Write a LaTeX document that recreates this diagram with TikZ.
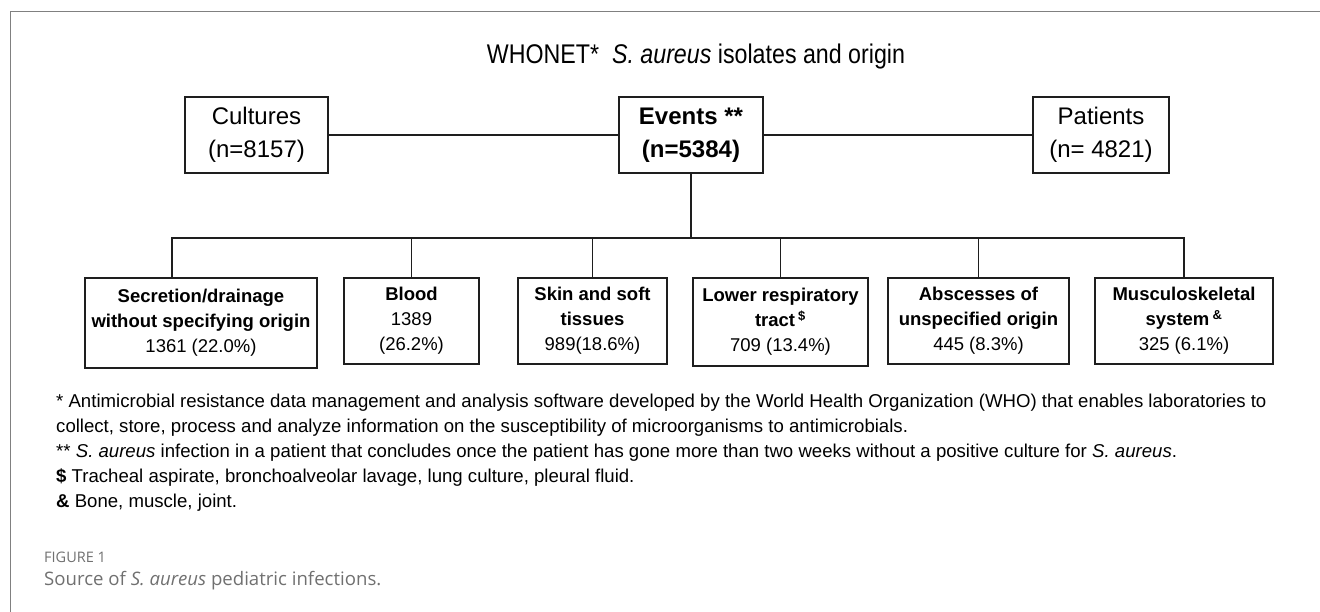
\documentclass[tikz,border=0pt]{standalone}
\usepackage{fontspec}
\setmainfont{Liberation Sans}
\newfontfamily\capfont{Open Sans}
\newfontfamily\narrowfont[FakeStretch=0.86]{Liberation Sans}
\definecolor{ln}{HTML}{1E1E1E}
\definecolor{framegray}{HTML}{808080}
\definecolor{capgray}{HTML}{707070}
\tikzset{
  topbox/.style={draw=ln, line width=1.4pt, minimum height=76pt, inner sep=0pt, align=center,
    font=\fontsize{24}{33}\selectfont},
  botbox/.style={draw=ln, line width=1.4pt, minimum height=86pt, inner sep=0pt, align=center,
    font=\fontsize{18.5}{25}\selectfont},
  conn/.style={draw=ln, line width=1.3pt},
  foot/.style={anchor=west, inner sep=0pt, font=\fontsize{18.6}{25}\selectfont},
}
\begin{document}
\begin{tikzpicture}[x=1pt,y=-1pt]
\useasboundingbox (0,0) rectangle (1320,612);
% open frame
\draw[framegray, line width=1pt] (10,612) -- (10,12) -- (1320,12);
% title
\node[font=\narrowfont\fontsize{27}{30}\selectfont, inner sep=0pt] (title) at (696,57)
  {WHONET*\ \ \textit{S. aureus} isolates and origin};
% top row
\node[topbox, minimum width=143pt] (cult) at (256.5,135) {Cultures\\(n=8157)};
\node[topbox, minimum width=144pt] (ev) at (691,135) {\textbf{Events **}\\\textbf{(n=5384)}};
\node[topbox, minimum width=136pt] (pat) at (1101,135) {Patients\\(n= 4821)};
\draw[conn] (cult.east) -- (ev.west);
\draw[conn] (ev.east) -- (pat.west);
\coordinate (bus) at (691,238);
\draw[conn] (ev.south) -- (bus);
% bottom row
\node[botbox, minimum width=232pt, minimum height=90pt] (sec) at (201,323)
  {\textbf{Secretion/drainage}\\\textbf{without specifying origin}\\1361 (22.0\%)};
\node[botbox, minimum width=135pt] (blood) at (411.5,321) {\textbf{Blood}\\1389\\(26.2\%)};
\node[botbox, minimum width=149pt] (skin) at (592.5,321) {\textbf{Skin and soft}\\\textbf{tissues}\\989(18.6\%)};
\node[botbox, minimum width=175pt, minimum height=88pt] (lrt) at (780.5,322)
  {\textbf{Lower respiratory}\\\textbf{tract}\,\textsuperscript{\textbf{\$}}\\709 (13.4\%)};
\node[botbox, minimum width=181pt] (abs) at (978.5,321)
  {\textbf{Abscesses of}\\\textbf{unspecified origin}\\445 (8.3\%)};
\node[botbox, minimum width=178pt] (msk) at (1184,321)
  {\textbf{Musculoskeletal}\\\textbf{system}\,\textsuperscript{\textbf{\&}}\\325 (6.1\%)};
\draw[conn] (bus) -| ([xshift=-29pt]sec.north);
\draw[conn] (bus) -| (blood.north);
\draw[conn] (bus) -| (skin.north);
\draw[conn] (bus) -| (lrt.north);
\draw[conn] (bus) -| (abs.north);
\draw[conn] (bus) -| (msk.north);
% footnotes
\node[foot] (f1) at (56,403) {* Antimicrobial resistance data management and analysis software developed by the World Health Organization (WHO) that enables laboratories to};
\node[foot] (f2) at (56,428) {collect, store, process and analyze information on the susceptibility of microorganisms to antimicrobials.};
\node[foot] (f3) at (56,453) {** \textit{S. aureus} infection in a patient that concludes once the patient has gone more than two weeks without a positive culture for \textit{S. aureus}.};
\node[foot] (f4) at (56,478) {\textbf{\$} Tracheal aspirate, bronchoalveolar lavage, lung culture, pleural fluid.};
\node[foot] (f5) at (56,503) {\textbf{\&} Bone, muscle, joint.};
% caption
\node[anchor=west, inner sep=0pt, text=capgray, font=\capfont\fontsize{14.5}{16}\selectfont] (fig) at (44,557) {FIGURE 1};
\node[anchor=west, inner sep=0pt, text=capgray, font=\capfont\fontsize{18.6}{22}\selectfont] (cap) at (44,581) {Source of \textit{S. aureus} pediatric infections.};
\end{tikzpicture}
\end{document}
